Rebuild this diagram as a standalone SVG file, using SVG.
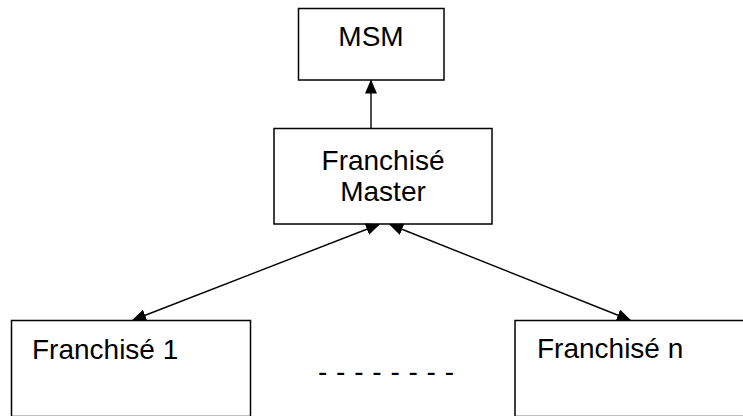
<svg xmlns="http://www.w3.org/2000/svg" width="743" height="416" viewBox="0 0 743 416">
  <style>
    .box { fill: #ffffff; stroke: #000000; stroke-width: 1.5; }
    .lbl { font-family: "Liberation Sans", Arial, sans-serif; font-size: 28px; fill: #000000; }
    .conn { stroke: #000000; stroke-width: 1.4; fill: none; }
  </style>
  <defs>
    <marker id="head" viewBox="0 0 14 12" refX="13" refY="6" markerWidth="14" markerHeight="12" markerUnits="userSpaceOnUse" orient="auto-start-reverse">
      <path d="M0,0 L14,6 L0,12 Z" fill="#000000"/>
    </marker>
  </defs>
  <rect width="743" height="416" fill="#ffffff"/>

  <g id="msm">
    <rect class="box" x="298.5" y="8.5" width="145.5" height="71.5"/>
    <text class="lbl" x="371" y="46" text-anchor="middle">MSM</text>
  </g>

  <g id="franchise-master">
    <rect class="box" x="274" y="128.5" width="218" height="95.5"/>
    <text class="lbl" x="383" y="170" text-anchor="middle">Franchisé</text>
    <text class="lbl" x="383" y="201" text-anchor="middle">Master</text>
  </g>

  <g id="franchise-1">
    <rect class="box" x="11.5" y="320.5" width="239" height="96"/>
    <text class="lbl" x="32" y="359">Franchisé 1</text>
  </g>

  <g id="franchise-n">
    <rect class="box" x="515" y="320.5" width="240" height="96"/>
    <text class="lbl" x="537" y="358">Franchisé n</text>
  </g>

  <g id="ellipsis">
    <text class="lbl" x="318" y="381" letter-spacing="0.5">- - - - - - - -</text>
  </g>

  <g id="connectors">
    <line class="conn" x1="371" y1="128" x2="371" y2="80.5" marker-end="url(#head)"/>
    <line class="conn" x1="133" y1="320" x2="379" y2="224.5" marker-start="url(#head)" marker-end="url(#head)"/>
    <line class="conn" x1="390" y1="224.5" x2="630" y2="320" marker-start="url(#head)" marker-end="url(#head)"/>
  </g>
</svg>
